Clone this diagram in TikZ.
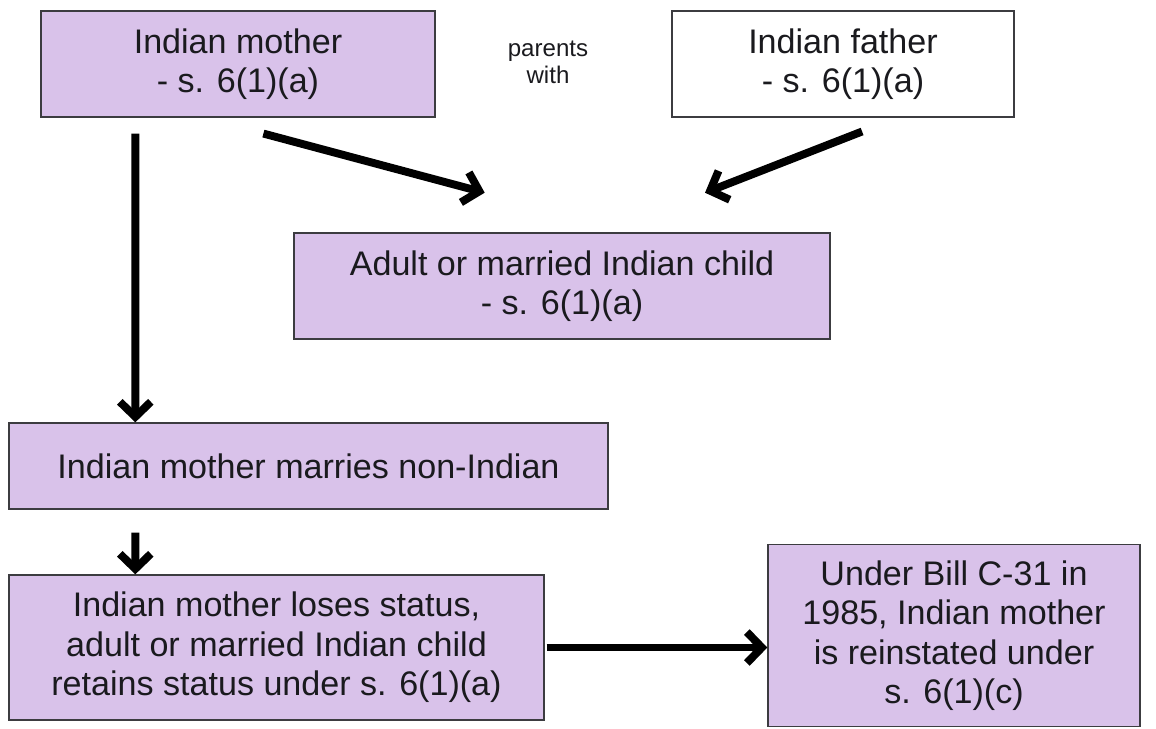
\documentclass[tikz,border=0pt]{standalone}
\usepackage{fontspec}
\setmainfont{Liberation Sans}
\usetikzlibrary{arrows.meta}
\definecolor{lilac}{RGB}{217,194,234}
\definecolor{ink}{RGB}{26,26,30}

\begin{document}
\begin{tikzpicture}[x=0.02cm, y=-0.02cm,
    box/.style={draw=ink!85, line width=0.8pt, fill=lilac, text=ink, align=center,
                inner sep=0pt, font=\fontsize{19.4}{22.4}\selectfont},
    arr/.style={line width=4.5pt, -{Straight Barb[length=0.3cm, width=0.62cm]}}]
            \useasboundingbox (0,0) rectangle (1156,728);

            \node[box, minimum width=7.88cm, minimum height=2.12cm] (mother) at (238,64) {Indian mother\\- s. 6(1)(a)};
            \node[box, fill=white, minimum width=6.84cm, minimum height=2.12cm] (father) at (843,64) {Indian father\\- s. 6(1)(a)};
            \node[align=center, text=ink, font=\fontsize{13.7}{15.3}\selectfont] (parents) at (548,62) {parents\\with};
            \node[box, minimum width=10.72cm, minimum height=2.12cm] (child) at (562,286) {Adult or married Indian child\\- s. 6(1)(a)};
            \node[box, minimum width=11.98cm, minimum height=1.72cm] (marries) at (308.5,466) {Indian mother marries non-Indian};
            \node[box, minimum width=10.7cm, minimum height=2.9cm] (loses) at (276.5,647.5) {Indian mother loses status,\\adult or married Indian child\\retains status under s. 6(1)(a)};
            \node[box, minimum width=7.44cm, minimum height=3.64cm] (bill) at (954,635.5) {Under Bill C-31 in\\1985, Indian mother\\is reinstated under\\s. 6(1)(c)};

            \draw[arr, shorten <=1.23cm, shorten >=3.07cm] ([xshift=-0.68cm]mother.south) -- ([xshift=1.42cm]child.north);
            \draw[arr, shorten <=0.76cm, shorten >=2.18cm] ([xshift=1.09cm]father.south) -- ([xshift=0.83cm]child.north);
            \draw[arr, shorten <=0.32cm] ([xshift=1.9cm]mother.south west) -- ([xshift=2.54cm]marries.north west);
            \draw[arr, shorten <=0.46cm] ([xshift=2.54cm]marries.south west) -- ([xshift=2.54cm]loses.north west);
            \draw[arr, shorten <=0.04cm] (loses.east) -- (loses.east -| bill.west);
         \end{tikzpicture}
\end{document}
